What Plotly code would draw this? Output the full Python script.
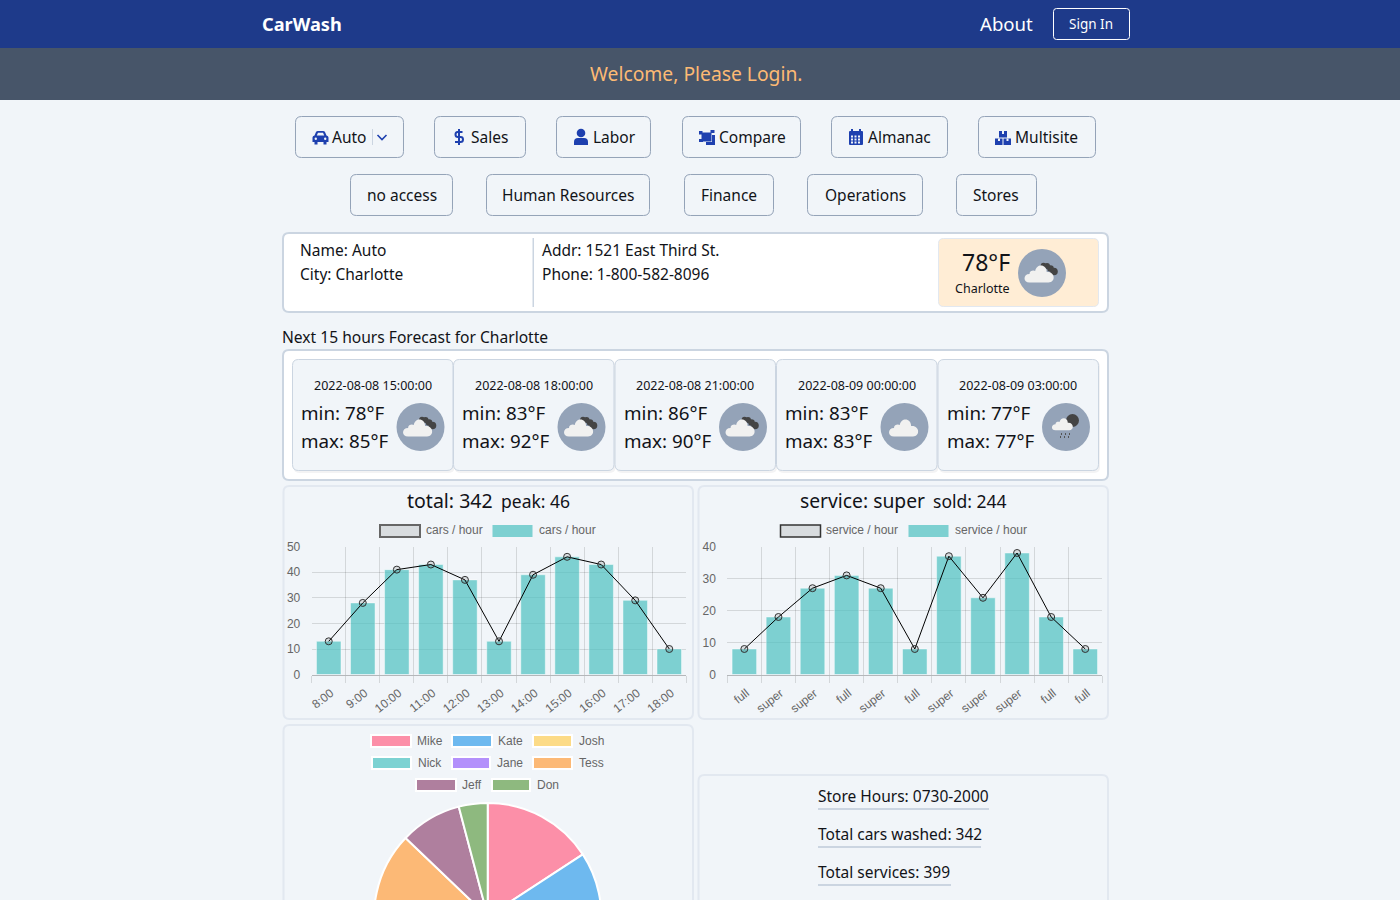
import re
import plotly.graph_objects as go

# ---- data ----
hours = ["8:00","9:00","10:00","11:00","12:00","13:00","14:00","15:00","16:00","17:00","18:00"]
cars_per_hour = [13,28,41,43,37,13,39,46,43,29,10]
service_names = ["full","super","super","full","super","full","super","super","super","full","full"]
service_per_hour = [8,18,27,31,27,8,37,24,38,18,8]
staff = ["Mike","Kate","Josh","Nick","Jane","Tess","Jeff","Don"]
staff_cars = [54,40,50,48,46,60,30,14]
staff_colors = ["#fc8fa8","#6eb9ef","#fcdb87","#7cd2d2","#b390fb","#fcb976","#af7f9e","#8eb97f"]
forecast_dates = ["2022-08-08 15:00:00","2022-08-08 18:00:00","2022-08-08 21:00:00","2022-08-09 00:00:00","2022-08-09 03:00:00"]
forecast_min = [78,83,86,83,77]
forecast_max = [85,92,90,83,77]

W, H = 1400, 1060
UI = "Noto Sans"
CH = "Liberation Sans"
INK = "#111318"
BG = "#f1f5f9"
BLUE = "#1e40af"
GRID = "rgba(0,0,0,0.12)"

def X(p): return p / W
def Y(p): return 1 - p / H

shapes, notes = [], []

def path(d, fill=None, line=None, lw=1):
    toks = re.findall(r"[A-Za-z]|-?[\d.]+", d)
    out, isx = [], True
    for t in toks:
        if t.isalpha():
            out.append(t); isx = True
        else:
            out.append(f"{X(float(t)):.5f}" if isx else f"{Y(float(t)):.5f}")
            isx = not isx
    s = " ".join(out)
    s = re.sub(r"([A-Z]) ", r"\1", s)
    shapes.append(dict(type="path", xref="paper", yref="paper", path=s, layer="below",
                       fillcolor=fill or "rgba(0,0,0,0)",
                       line=dict(color=line or "rgba(0,0,0,0)", width=lw if line else 0)))

def rrect(x0, y0, x1, y1, r=6, fill=None, line=None, lw=1):
    path(f"M{x0+r} {y0} L{x1-r} {y0} Q{x1} {y0} {x1} {y0+r} L{x1} {y1-r} Q{x1} {y1} {x1-r} {y1} "
         f"L{x0+r} {y1} Q{x0} {y1} {x0} {y1-r} L{x0} {y0+r} Q{x0} {y0} {x0+r} {y0} Z", fill, line, lw)

def rect(x0, y0, x1, y1, fill=None, line=None, lw=1):
    shapes.append(dict(type="rect", xref="paper", yref="paper", x0=X(x0), x1=X(x1), y0=Y(y1), y1=Y(y0),
                       layer="below", fillcolor=fill or "rgba(0,0,0,0)",
                       line=dict(color=line or "rgba(0,0,0,0)", width=lw if line else 0)))

def circle(cx, cy, r, fill):
    shapes.append(dict(type="circle", xref="paper", yref="paper", x0=X(cx-r), x1=X(cx+r), y0=Y(cy+r), y1=Y(cy-r),
                       layer="below", fillcolor=fill, line=dict(width=0)))

def text(x, y, s, size=15.5, color=INK, anchor="left", font=UI, bold=False):
    notes.append(dict(x=X(x), y=Y(y), xref="paper", yref="paper", text=f"<b>{s}</b>" if bold else s,
                      showarrow=False, xanchor=anchor, yanchor="middle", borderpad=0, borderwidth=0,
                      font=dict(family=font, size=size, color=color)))

# ---- page chrome ----
rect(0, 0, 1400, 48, "#1e3a8a")
rect(0, 48, 1400, 100, "#475569")
text(262, 24, "CarWash", 18.2, "#ffffff", bold=True)
text(980, 24, "About", 18.6, "#ffffff")
rrect(1053.5, 8.5, 1129.5, 39.5, 3, None, "#ffffff", 1)
text(1091, 24, "Sign In", 13.5, "#ffffff", "center")
text(696, 74, "Welcome, Please Login.", 19.3, "#fdba74", "center")

# ---- buttons ----
row1 = [(295,404,"Auto",332),(434,526,"Sales",471),(556,651,"Labor",593),(682,801,"Compare",719),(831,948,"Almanac",868),(978,1096,"Multisite",1015)]
row2 = [(350,453,"no access"),(486,650,"Human Resources"),(684,774,"Finance"),(807,923,"Operations"),(956,1037,"Stores")]
for x0,x1,s,tx in row1:
    rrect(x0+.5,116.5,x1-.5,157.5,6,None,"#94a3b8",1)
    text(tx,137,s)
for x0,x1,s in row2:
    rrect(x0+.5,174.5,x1-.5,215.5,6,None,"#94a3b8",1)
    text((x0+x1)/2,195,s,15.5,INK,"center")

# button icons
path("M312.5 142 L312.5 137.5 Q312.5 136 314.5 135.5 L316 132 Q316.5 131 318 131 L323 131 Q324.5 131 325 132 L326.5 135.5 Q328.5 136 328.5 137.5 L328.5 142 L326.5 142 L326.5 144.5 L323.5 144.5 L323.5 142 L317.5 142 L317.5 144.5 L314.5 144.5 L314.5 142 Z", BLUE)
path("M316.8 135.5 L318 132.8 L323 132.8 L324.2 135.5 Z", BG)
circle(315.8,138.8,1.2,BG); circle(325.2,138.8,1.2,BG)
rect(372,129,373,145,"#cbd5e1")
path("M377.5 135 L382 139.5 L386.5 135", None, BLUE, 1.6)
path("M462.5 132 L457.5 132 Q455.5 132 455.5 134.5 Q455.5 137 458 137 L460.5 137 Q463 137 463 139.5 Q463 142 460.5 142 L455 142 M459 129 L459 145", None, BLUE, 2)
circle(581,133,4.3,BLUE)
path("M574 145 L574 142 Q574 138 578 138 L584 138 Q588 138 588 142 L588 145 Z", BLUE)
rect(701.5,132.5,711.5,141.5,BLUE)
rect(699,131,702.5,134.5,BLUE); rect(710.5,130,714.5,133,BLUE)
rect(699,139,703,142,BLUE); rect(706,142,715,145,BLUE); rect(712,135,715,145,BLUE)
rrect(849,131,863,145,1,BLUE)
rect(851,129,853,132,BLUE); rect(859,129,861,132,BLUE)
for gy in (135.5,138.5,141.5):
    for gx in (851,854.5,858):
        rect(gx,gy,gx+2,gy+2,BG)
rect(995,138.5,1002.5,145,BLUE); rect(1003.5,138.5,1011,145,BLUE); rect(999,131,1007,137.5,BLUE)
rect(1002,131,1004,134,BG); rect(998,138.5,1000,141,BG); rect(1006.5,138.5,1008.5,141,BG)

# ---- store card ----
rrect(283,233,1108,312,6,"#ffffff","#cbd5e1",2)
rect(532.5,238,534,307,"#cbd5e1")
text(300,250,"Name: Auto"); text(300,274,"City: Charlotte")
text(542,250,"Addr: 1521 East Third St."); text(542,274,"Phone: 1-800-582-8096")
rrect(938.5,238.5,1098.5,306.5,5,"#ffedd5","#e2e8f0",1)
text(986,262,"78°F",23,INK,"center")
text(982.5,288.5,"Charlotte",12.5,INK,"center")

def white_cloud(cx, cy, s=1.0, c="#f1f1f0"):
    p = lambda a, b: f"{cx+a*s:.1f} {cy+b*s:.1f}"
    path(f"M{p(-11,10)} C{p(-18,10)} {p(-18,1)} {p(-11,1)} C{p(-11,-3)} {p(-6,-3)} {p(-5,-2)} "
         f"C{p(-4,-10)} {p(7,-10)} {p(7,-1)} C{p(16,-2)} {p(17,10)} {p(9,10)} Z", c)

def dark_puffs(cx, cy):
    for a,b,r in ((1.5,-7.5,2.8),(5,-7,3),(8.5,-4.5,3.3),(12,-1.5,3.8)):
        circle(cx+a,cy+b,r,"#444444")

def icon(cx, cy, kind):
    circle(cx,cy,24,"#94a3b8")
    if kind == "clouds":
        dark_puffs(cx,cy)
        white_cloud(cx-2,cy,0.95)
    elif kind == "cloud":
        white_cloud(cx,cy,0.95)
    else:
        circle(cx+6.5,cy-6.5,6.5,"#444444")
        white_cloud(cx-3,cy-3.5,0.68)
        for a,b in ((-5,6),(-1,6),(3,6),(-6,9),(-2,9),(2,9)):
            rect(cx+a,cy+b,cx+a+1,cy+b+2,"#555555")

icon(1042,273,"clouds")

# ---- forecast ----
text(282,337,"Next 15 hours Forecast for Charlotte",15.6)
rrect(283,350,1108,480,6,"#ffffff","#cbd5e1",2)
card_x = [292.5,453.5,615,776.5,938]
kinds = ["clouds","clouds","clouds","cloud","rain"]
for cx,d,mn,mx,k in zip(card_x,forecast_dates,forecast_min,forecast_max,kinds):
    rrect(cx+1,361,cx+162,473,6,"rgba(15,23,42,0.05)")
    rrect(cx,359.5,cx+160.5,470.5,6,BG,"#cbd5e1",1)
    text(cx+80.3,385,d,12.5,INK,"center")
    text(cx+8.7,413,f"min: {mn}°F",18.8)
    text(cx+8.7,441,f"max: {mx}°F",18.8)
    icon(cx+128,427,k)

# ---- chart panels ----
rrect(283.5,486,693,719,6,None,"#e2e8f0",2)
rrect(698.5,486,1108,719,6,None,"#e2e8f0",2)
rrect(283.5,725,693,1045,6,None,"#e2e8f0",2)
rrect(698.5,775,1108,1045,6,None,"#e2e8f0",2)

text(450,501,"total: 342",19.5,INK,"center")
text(535.5,500.8,"peak: 46",17.5,INK,"center")
text(862.5,501,"service: super",19.3,INK,"center")
text(969.5,500.8,"sold: 244",17.5,INK,"center")

GR = "#666666"
rect(380,525,420,537,"rgba(0,0,0,0.1)","#666666",2)
text(425.5,530,"cars / hour",12,GR,font=CH)
rect(492.5,525,532.5,537,"rgba(75,192,192,0.7)")
text(538.5,530,"cars / hour",12,GR,font=CH)
rect(780.5,525,820.5,537,"rgba(0,0,0,0.1)","#333333",1.5)
text(826.5,530,"service / hour",12,GR,font=CH)
rect(908.5,525,948.5,537,"rgba(75,192,192,0.7)")
text(954.5,530,"service / hour",12,GR,font=CH)

# pie legend
leg = [(371,411,741,417,0),(452,492,741,498,1),(533,572,741,579,2),
       (372,411,763,417.5,3),(452,490,763,497,4),(533,572,763,579,5),
       (416,456,785,462,6),(492,530,785,537,7)]
for x0,x1,y,tx,i in leg:
    rect(x0,y-6,x1,y+6,staff_colors[i],"#ffffff",2)
    text(tx,y,staff[i],12,GR,font=CH)

# totals
for s,y,x1 in (("Store Hours: 0730-2000",796,989),("Total cars washed: 342",834,981),("Total services: 399",872,951)):
    text(818,y,s,15.5)
    rect(818,y+12,x1,y+14,"#cbd5e1")

# ---- traces ----
def combo(x, vals, name, xa, ya):
    return [go.Bar(x=x, y=vals, name=name, xaxis=xa, yaxis=ya, width=0.72,
                   marker=dict(color="rgba(75,192,192,0.7)", line=dict(color="rgba(255,255,255,0.45)", width=1))),
            go.Scatter(x=x, y=vals, name=name, xaxis=xa, yaxis=ya, mode="lines+markers",
                       line=dict(color="#000000", width=1),
                       marker=dict(size=7, color="rgba(0,0,0,0.1)", line=dict(color="#333333", width=1)))]

boundaries = [i - 0.5 for i in range(len(hours) + 1)]

fig = go.Figure()
# empty carriers so the boundary-grid axes are drawn
fig.add_trace(go.Scatter(x=[None], y=[None], xaxis="x", yaxis="y", hoverinfo="skip"))
fig.add_trace(go.Scatter(x=[None], y=[None], xaxis="x2", yaxis="y2", hoverinfo="skip"))
fig.add_traces(combo(hours, cars_per_hour, "cars / hour", "x3", "y"))
fig.add_traces(combo(hours, service_per_hour, "service / hour", "x4", "y2"))
fig.add_trace(go.Pie(labels=staff, values=staff_cars, sort=False, direction="clockwise", rotation=0,
                     textinfo="none", hoverinfo="label+value",
                     marker=dict(colors=staff_colors, line=dict(color="#ffffff", width=2)),
                     domain=dict(x=[X(487.7-113.6), X(487.7+113.6)], y=[Y(916.5+113.6), Y(916.5-113.6)])))

def grid_axis(x0, x1, ya):
    return dict(domain=[X(x0),X(x1)], type="linear", range=[-0.5,10.5], tickmode="array", tickvals=boundaries,
                ticks="outside", ticklen=7, tickcolor=GRID, tickwidth=1, showticklabels=False, automargin=False,
                showgrid=True, gridcolor=GRID, gridwidth=1, showline=True, linecolor="rgba(0,0,0,0.25)", linewidth=1,
                zeroline=False, anchor=ya)

def label_axis(x0, x1, ticktext, over, ya):
    return dict(domain=[X(x0),X(x1)], overlaying=over, anchor=ya, type="category", categoryorder="array", categoryarray=hours,
                range=[-0.5,10.5], tickmode="array", tickvals=hours, ticktext=ticktext, automargin=False,
                ticks="outside", ticklen=6, tickcolor="rgba(0,0,0,0)", tickangle=-38, showgrid=False, ticklabelshift=2,
                showline=False, zeroline=False, tickfont=dict(family=CH, size=12, color=GR))

def yaxis(top, dtick, xa):
    return dict(domain=[Y(674.6),Y(546.6)], range=[0,top], dtick=dtick, tick0=0, anchor=xa, automargin=False,
                ticks="outside", ticklen=8, tickcolor="rgba(0,0,0,0)", showgrid=True, gridcolor=GRID, gridwidth=1,
                showline=False, zeroline=False, tickfont=dict(family=CH, size=12, color=GR))

fig.update_layout(width=W, height=H, autosize=False, margin=dict(l=0,r=0,t=0,b=0,pad=0,autoexpand=False),
                  paper_bgcolor=BG, plot_bgcolor="rgba(0,0,0,0)", showlegend=False, barmode="overlay",
                  xaxis=grid_axis(311.7,686.3,"y"), xaxis2=grid_axis(727.3,1102.3,"y2"),
                  xaxis3=label_axis(311.7,686.3,hours,"x","y"), xaxis4=label_axis(727.3,1102.3,service_names,"x2","y2"),
                  yaxis=yaxis(50,10,"x"), yaxis2=yaxis(40,10,"x2"),
                  shapes=shapes, annotations=notes, font=dict(family=UI, color=INK))

fig.write_html("out.html", config=dict(displayModeBar=False))
page = open("out.html", encoding="utf-8").read()
page = page.replace("<head>", "<head><style>html,body{margin:0;padding:0;overflow:hidden;height:900px;background:#f1f5f9}</style>", 1)
open("out.html", "w", encoding="utf-8").write(page)
